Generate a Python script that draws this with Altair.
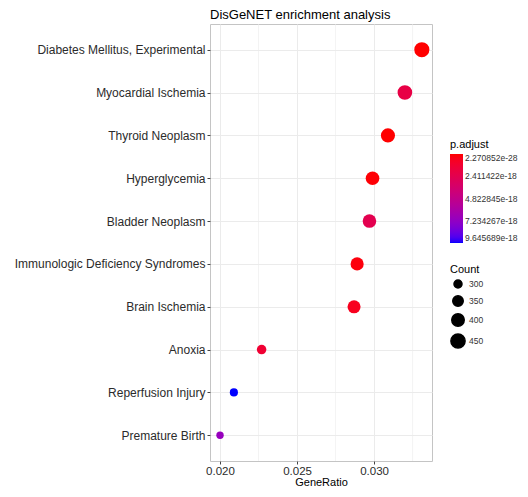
import altair as alt
import pandas as pd

terms = [
    "Diabetes Mellitus, Experimental",
    "Myocardial Ischemia",
    "Thyroid Neoplasm",
    "Hyperglycemia",
    "Bladder Neoplasm",
    "Immunologic Deficiency Syndromes",
    "Brain Ischemia",
    "Anoxia",
    "Reperfusion Injury",
    "Premature Birth",
]
gene_ratio = [0.0331, 0.0320, 0.0309, 0.0299, 0.0297, 0.0289, 0.0287, 0.0227, 0.0209, 0.0200]
counts = [480, 464, 448, 434, 431, 419, 416, 329, 303, 290]
p_adjust = [2.270852e-28, 2.0e-18, 5e-21, 8e-20, 2.4e-18, 2e-19, 6e-19, 1.3e-18, 9.645689e-18, 7.0e-18]

x_ticks = [0.020, 0.025, 0.030]
x_minor = [0.0225, 0.0275, 0.0325]
padj_legend = [2.270852e-28, 2.411422e-18, 4.822845e-18, 7.234267e-18, 9.645689e-18]
count_legend = [300, 350, 400, 450]

df = pd.DataFrame({"Description": terms, "GeneRatio": gene_ratio,
                   "Count": counts, "p_adjust": p_adjust})
minor_df = pd.DataFrame({"GeneRatio": x_minor})

FONT = "Liberation Sans"
x_scale = alt.Scale(domain=[0.01935, 0.03376], nice=False, zero=False)

minor = alt.Chart(minor_df).mark_rule(color="#EBEBEB", strokeWidth=0.6).encode(
    x=alt.X("GeneRatio:Q", scale=x_scale)
)

points = alt.Chart(df).mark_circle(opacity=1).encode(
    x=alt.X("GeneRatio:Q", scale=x_scale,
            axis=alt.Axis(values=x_ticks, format=".3f", title="GeneRatio")),
    y=alt.Y("Description:N", sort=terms,
            scale=alt.Scale(type="point", padding=0.6),
            axis=alt.Axis(title=None, grid=True, labelLimit=0)),
    color=alt.Color("p_adjust:Q",
                    scale=alt.Scale(domain=[9.645689e-18, 2.270852e-28],
                                    range=["#0000FF", "#FF0000"], interpolate="lab"),
                    legend=alt.Legend(title="p.adjust", values=padj_legend, format=".6e",
                                      orient="none", legendX=240, legendY=115,
                                      gradientLength=89, gradientThickness=13)),
    size=alt.Size("Count:Q",
                  scale=alt.Scale(domain=[290, 480], range=[55, 229], zero=False),
                  legend=alt.Legend(title="Count", values=count_legend,
                                    orient="none", legendX=240, legendY=240,
                                    symbolFillColor="black", symbolStrokeColor="black",
                                    symbolType="circle", rowPadding=0)),
)

chart = alt.layer(minor, points).properties(
    width=222,
    height=437,
    autosize=alt.AutoSizeParams(type="none"),
    padding={"left": 202, "top": 16, "right": 88, "bottom": 28},
    title=alt.TitleParams("DisGeNET enrichment analysis", anchor="start", frame="group",
                          fontSize=13, fontWeight="normal", font=FONT, color="black",
                          offset=2),
).configure_view(
    stroke="#C4C4C4", strokeWidth=1
).configure_axis(
    labelFont=FONT, titleFont=FONT, labelColor="#2b2b2b", titleColor="black",
    labelFontSize=12, titleFontSize=12, titleFontWeight="normal",
    gridColor="#EBEBEB", gridWidth=1, domain=False,
    tickColor="#444444", tickSize=3, labelPadding=2,
).configure_axisX(
    labelFontSize=11.5, titleFontSize=11, labelPadding=1, titlePadding=0,
).configure_legend(
    titleFont=FONT, labelFont=FONT, titleFontSize=11, titleFontWeight="normal",
    titleColor="black", labelFontSize=8.5, labelColor="#333333", labelOffset=3,
    titlePadding=4,
)

chart.save("out.html", embed_options={"renderer": "svg", "actions": False})
